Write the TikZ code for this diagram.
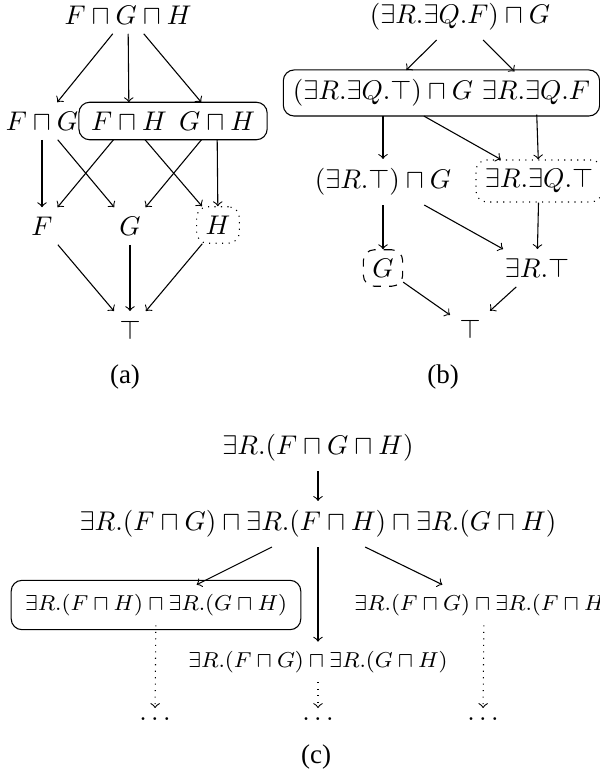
\documentclass[tikz,border=0pt]{standalone}
\usepackage{amsmath,amssymb}
\usepackage{fontspec}
\newfontfamily\capfont{Liberation Serif}
\usetikzlibrary{fit}

\begin{document}
\begin{tikzpicture}[
  x=0.3704pt, y=-0.3704pt,
  arr/.style={->},
  darr/.style={->, dotted},
  grp/.style={draw, rounded corners, inner sep=0pt},
  dotbox/.style={draw, dotted, rounded corners},
  dashbox/.style={draw, dashed, rounded corners},
  smalltext/.style={font=\footnotesize},
  subcap/.style={font=\capfont}
]
\useasboundingbox (0,0) rectangle (600,774);

% (a)
\node (fgh) at (128,15)  {$F \sqcap G \sqcap H$};
\node (fg)  at (42,121)  {$F \sqcap G$};
\node (fh)  at (129,121) {$F \sqcap H$};
\node (gh)  at (217,121) {$G \sqcap H$};
\node[grp, inner xsep=1pt, fit=(fh)(gh)] (grpa) {};
\node (fa)  at (42,226)  {$F$};
\node (ga)  at (130,226) {$G$};
\node[dotbox] (ha) at (218,225) {$H$};
\node (topa) at (130,330) {$\top$};
\draw[arr] (fgh) -- (fg);\draw[arr] (fgh) -- (fh);\draw[arr] (fgh) -- (gh);
\draw[arr] (fg) -- (fa);\draw[arr] (fg) -- (ga);
\draw[arr] (fh) -- (fa);\draw[arr] (fh) -- (ha);
\draw[arr] (gh) -- (ga);\draw[arr] (gh) -- (ha);
\draw[arr] (fa) -- (topa);\draw[arr] (ga) -- (topa);\draw[arr] (ha) -- (topa);
\node[subcap] (capa) at (125,377) {(a)};

% (b)
\node (rqf) at (460,17)  {$(\exists R.\exists Q.F) \sqcap G$};
\node (rqt) at (383,93)  {$(\exists R.\exists Q.\top) \sqcap G$};
\node (rq)  at (536,93)  {$\exists R.\exists Q.F$};
\node[grp, fit=(rqt)(rq)] (grpb) {};
\node (rt)  at (383,182) {$(\exists R.\top) \sqcap G$};
\node[dotbox] (rqtop) at (539,181) {$\exists R.\exists Q.\top$};
\node[dashbox] (gb) at (383,268) {$G$};
\node (rtop) at (537,268) {$\exists R.\top$};
\node (topb) at (470,329) {$\top$};
\draw[arr] (rqf) -- (rqt);\draw[arr] (rqf) -- (rq);
\draw[arr] (rqt) -- (rt);\draw[arr] (rqt) -- (rqtop);\draw[arr] (rq) -- (rqtop);
\draw[arr] (rt) -- (gb);\draw[arr] (rt) -- (rtop);\draw[arr] (rqtop) -- (rtop);
\draw[arr] (gb) -- (topb);\draw[arr] (rtop) -- (topb);
\node[subcap] (capb) at (443,377) {(b)};

% (c)
\node (rfgh) at (318,448) {$\exists R.(F \sqcap G \sqcap H)$};
\node (rall) at (318,524) {$\exists R.(F \sqcap G) \sqcap \exists R.(F \sqcap H) \sqcap \exists R.(G \sqcap H)$};
\node[smalltext] (rleft)  at (156,605) {$\exists R.(F \sqcap H) \sqcap \exists R.(G \sqcap H)$};
\node[grp, inner sep=1.6pt, fit=(rleft)] (grpc) {};
\node[smalltext] (rright) at (484,605) {$\exists R.(F \sqcap G) \sqcap \exists R.(F \sqcap H)$};
\node[smalltext] (rmid)   at (318,662) {$\exists R.(F \sqcap G) \sqcap \exists R.(G \sqcap H)$};
\node (dleft)  at (155,719) {$\ldots$};
\node (dmid)   at (318,719) {$\ldots$};
\node (dright) at (483,719) {$\ldots$};
\draw[arr] (rfgh) -- (rall);
\draw[arr] (rall) -- (rleft);\draw[arr] (rall) -- (rmid);\draw[arr] (rall) -- (rright);
\draw[darr] (rleft) -- (dleft);\draw[darr] (rmid) -- (dmid);\draw[darr] (rright) -- (dright);
\node[subcap] (capc) at (316,757) {(c)};
\end{tikzpicture}
\end{document}
